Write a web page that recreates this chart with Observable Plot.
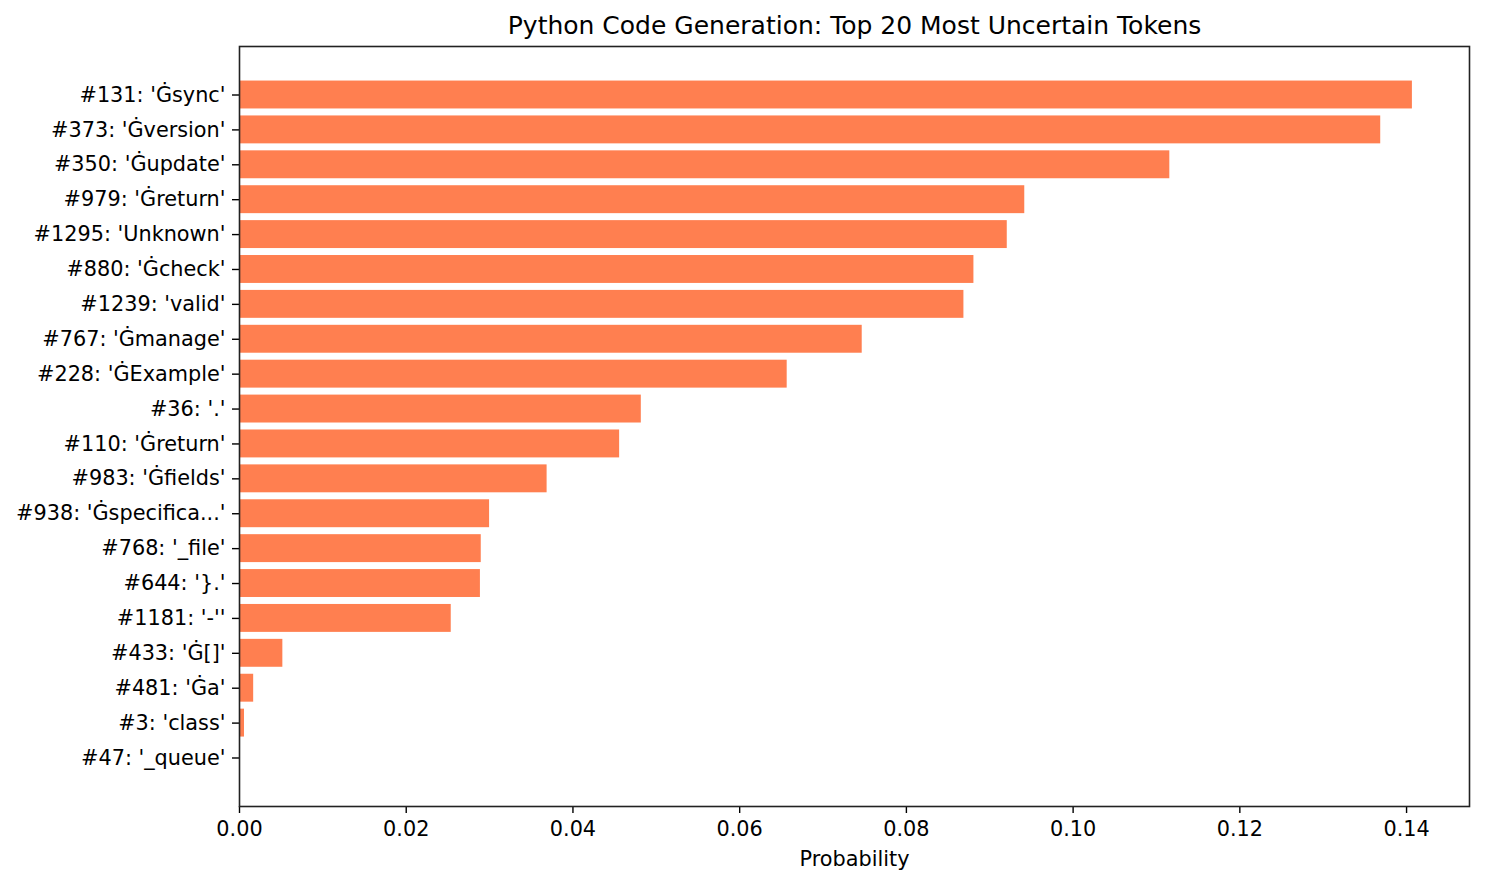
<!DOCTYPE html>
<html>
<head>
<meta charset="utf-8">
<script src="https://cdn.jsdelivr.net/npm/d3@7"></script>
<script src="https://cdn.jsdelivr.net/npm/@observablehq/plot@0.6"></script>
<style>
  html, body { margin: 0; padding: 0; background: #fff; }
  #chart svg { display: block; }
</style>
</head>
<body>
<div id="chart"></div>
<script>
const titleText = "Python Code Generation: Top 20 Most Uncertain Tokens";
const xLabel = "Probability";
const tokens = [
  "#131: 'Ġsync'",
  "#373: 'Ġversion'",
  "#350: 'Ġupdate'",
  "#979: 'Ġreturn'",
  "#1295: 'Unknown'",
  "#880: 'Ġcheck'",
  "#1239: 'valid'",
  "#767: 'Ġmanage'",
  "#228: 'ĠExample'",
  "#36: '.'",
  "#110: 'Ġreturn'",
  "#983: 'Ġfields'",
  "#938: 'Ġspecifica...'",
  "#768: '_file'",
  "#644: '}.'",
  "#1181: '-''",
  "#433: 'Ġ[]'",
  "#481: 'Ġa'",
  "#3: 'class'",
  "#47: '_queue'"
];
const probs = [
  0.1407, 0.1369, 0.1116, 0.0942, 0.0921, 0.0881, 0.0869, 0.0747, 0.0657, 0.0482,
  0.0456, 0.0369, 0.0300, 0.0290, 0.0289, 0.0254, 0.0052, 0.0017, 0.0006, 0.0001
];
const xTicks = [0, 0.02, 0.04, 0.06, 0.08, 0.10, 0.12, 0.14];

const data = tokens.map((t, i) => ({token: t, prob: probs[i]}));

const chart = Plot.plot({
  width: 1485,
  height: 884,
  marginLeft: 239,
  marginRight: 16,
  marginTop: 46,
  marginBottom: 78,
  style: {fontFamily: "'DejaVu Sans', sans-serif", fontSize: "21px", color: "#000", background: "#fff"},
  x: {domain: [0, 0.14755]},
  y: {domain: tokens, paddingInner: 0.2, paddingOuter: 0.99, round: false},
  marks: [
    Plot.barX(data, {x: "prob", y: "token", fill: "#ff7f50"}),
    Plot.axisX({ticks: xTicks, tickFormat: d => d.toFixed(2), tickSize: 7, tickPadding: 8, label: null, stroke: "#000", strokeWidth: 1.4, fill: "#000", fontSize: 20.8}),
    Plot.axisY({tickSize: 7, tickPadding: 7, label: null, stroke: "#000", strokeWidth: 1.4, fill: "#000", fontSize: 20.8}),
    Plot.frame({stroke: "#222", strokeWidth: 1.6}),
    Plot.text([titleText], {frameAnchor: "top", lineAnchor: "middle", dy: -21, fontSize: 25, fill: "#000"}),
    Plot.text([xLabel], {frameAnchor: "bottom", lineAnchor: "middle", dy: 53, fontSize: 20.8, fill: "#000"})
  ]
});
document.getElementById("chart").appendChild(chart);
</script>
</body>
</html>
